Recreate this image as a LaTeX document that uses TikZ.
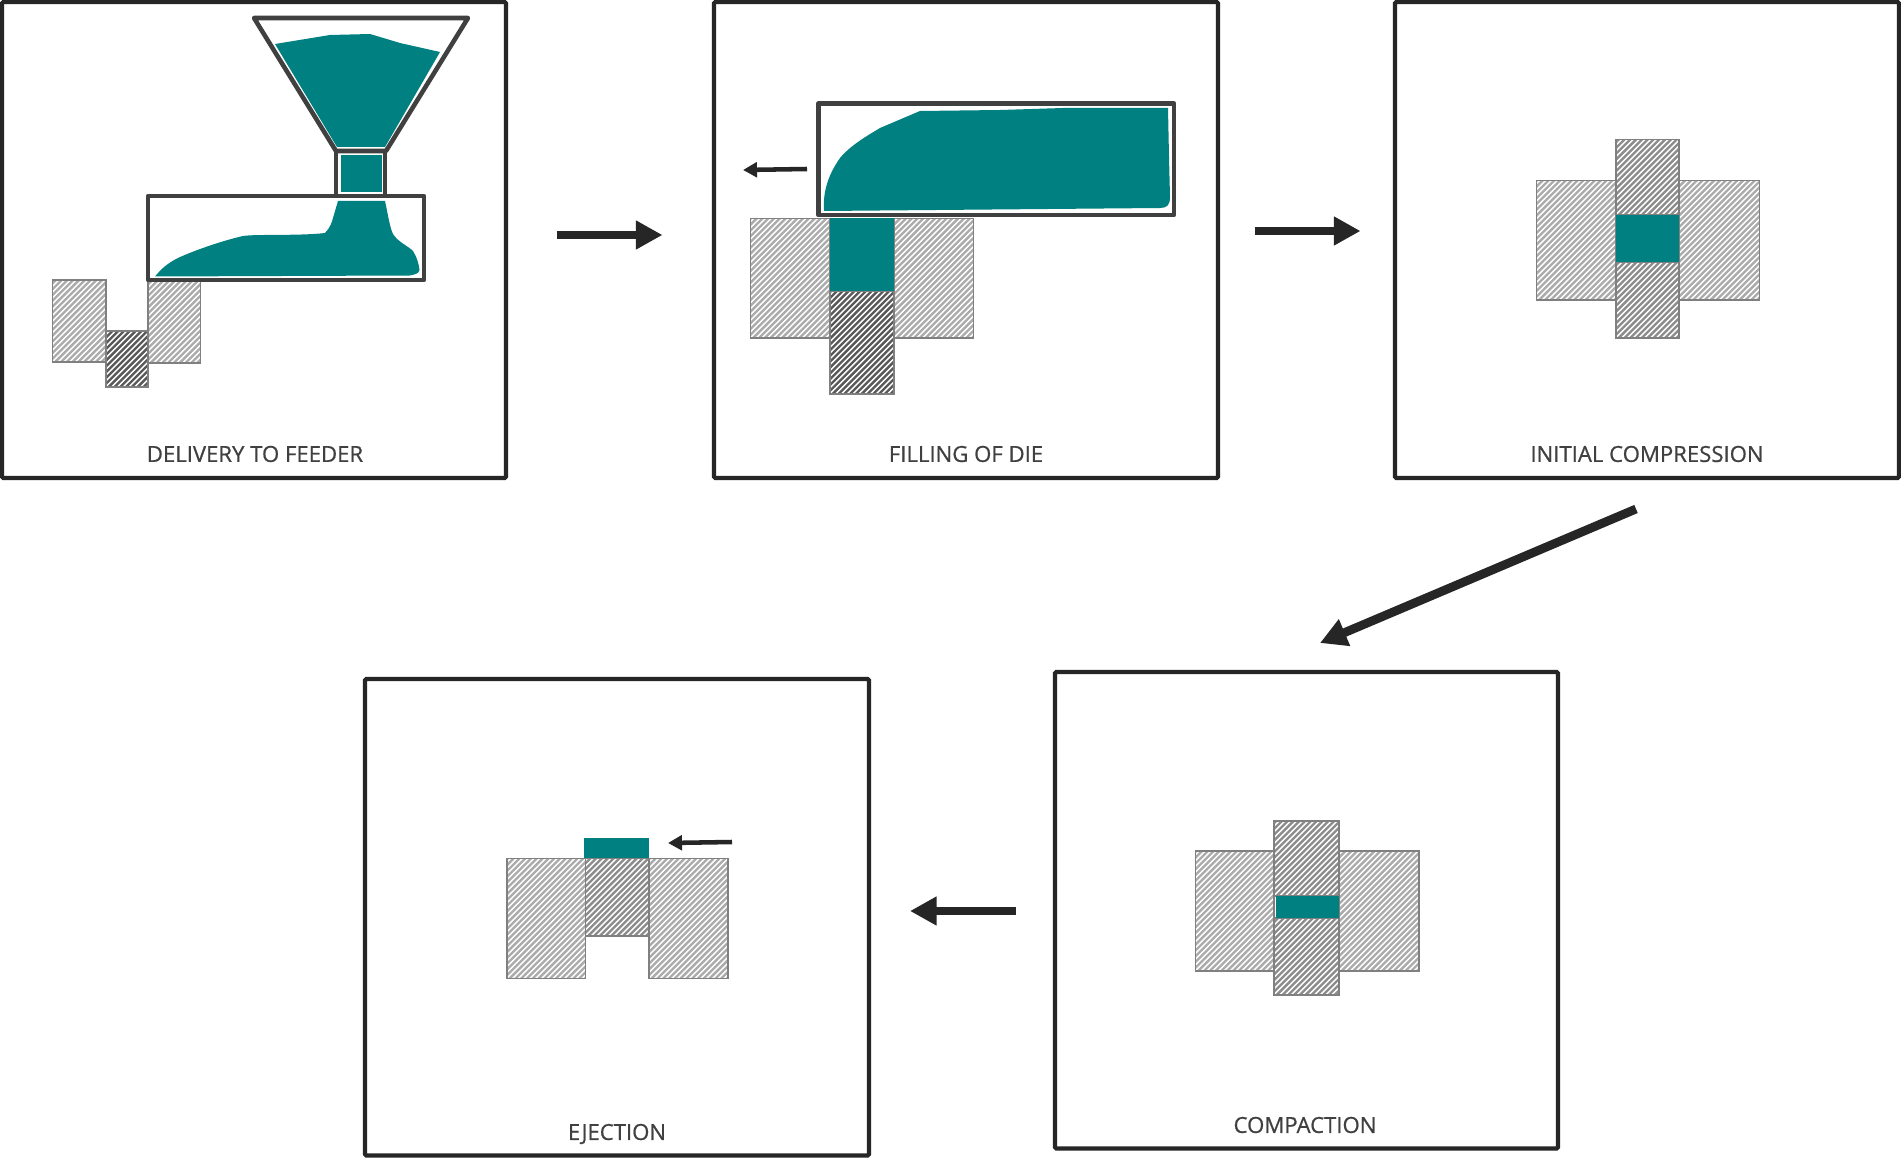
\documentclass[tikz,border=0pt]{standalone}
\usepackage{fontspec}
\setmainfont{Open Sans}
\newfontfamily\capfont[FakeBold=0.7]{Open Sans}
\usetikzlibrary{arrows.meta}
\definecolor{teal1}{HTML}{008080}
\definecolor{frameink}{HTML}{262626}
\definecolor{machineink}{HTML}{404040}
\definecolor{hatchedge}{HTML}{808080}
\definecolor{hatchlight}{HTML}{ABABAB}
\definecolor{hatchmid}{HTML}{8C8C8C}
\definecolor{hatchdark}{HTML}{595959}
\tikzset{
  x=0.75pt, y=-0.75pt,
  panel/.style={draw=frameink, line width=3.2pt, rounded corners=1pt},
  machine/.style={draw=machineink, line width=3.4pt, line join=round},
  powder/.style={fill=teal1, draw=none},
  caption/.style={text=machineink, font=\capfont\fontsize{16.6}{20}\selectfont, anchor=center, inner sep=0pt},
  bigarrow/.style={draw=frameink, line width=6.6pt, -{Triangle[length=20pt,width=20.5pt]}},
  smallarrow/.style={draw=frameink, line width=3.4pt, -{Triangle[length=10.5pt,width=11pt]}},
}
% Hatched block: corners in pixel-like units, stripe colour as last argument
\newcommand{\hatchblock}[5]{%
  \begin{scope}
    \clip (#1,#2) rectangle (#3,#4);
    \foreach \k in {-60,...,60}{
      \draw[#5, line width=1.75pt] ({#1+\k*5.8},{#4+20}) -- ++(140,-140);
    }
  \end{scope}
  \draw[hatchedge, line width=0.9pt] (#1,#2) rectangle (#3,#4);
}
\begin{document}
\begin{tikzpicture}
\useasboundingbox (0,0) rectangle (1901,1162);
\fill[white] (0,0) rectangle (1901,1162);

% Panel frames
\draw[panel] (2,2) rectangle (506,478);
\draw[panel] (714,2) rectangle (1218,478);
\draw[panel] (1395,2) rectangle (1899,478);
\draw[panel] (1055,672) rectangle (1558,1148.5);
\draw[panel] (365,679) rectangle (869,1155.5);

% Delivery to feeder
\hatchblock{52.5}{280}{106}{362}{hatchlight}
\hatchblock{148}{281}{200.5}{363}{hatchlight}
\hatchblock{106}{331}{148}{387}{hatchdark}
\fill[powder] (275,44) -- (330,35) -- (370,34) -- (400,43) -- (440,52) -- (385,147) -- (337,147) -- cycle;
\fill[powder] (341,155) rectangle (382,192);
\fill[powder] (155,276.5) .. controls (162,268) and (168,263) .. (178,258)
  .. controls (195,250) and (225,240) .. (243,236)
  .. controls (255,234) and (300,236) .. (325,233)
  .. controls (330,228) and (332,222) .. (333,218)
  -- (338,201) -- (385,201)
  .. controls (388,215) and (390,228) .. (393,234)
  .. controls (398,242) and (408,246) .. (413,251)
  .. controls (417,257) and (419,265) .. (419.5,270)
  .. controls (419,274) and (414,274.5) .. (410,275.5) -- cycle;
\draw[machine] (254,18) -- (468,18) -- (386,151) -- (336,151) -- cycle;
\draw[machine] (336,151) rectangle (385,196);
\draw[machine] (148,196) rectangle (424,280);

% Filling of die
\hatchblock{750.5}{218.5}{830}{338}{hatchlight}
\hatchblock{894}{218.5}{973.5}{338}{hatchlight}
\hatchblock{830}{291}{894}{394}{hatchdark}
\fill[powder] (830,218) rectangle (893.5,291);
\fill[powder] (824,211) .. controls (823,195) and (826,178) .. (840,158)
  .. controls (850,146) and (865,137) .. (880,128)
  -- (920,111) -- (1000,110) -- (1063,108) -- (1168,108) -- (1169,157) -- (1170,197)
  .. controls (1170,205) and (1167,208) .. (1160,208) -- cycle;
\draw[machine] (818.5,103.5) rectangle (1174,215);

% Initial compression
\hatchblock{1536.5}{180.5}{1616}{300}{hatchlight}
\hatchblock{1679}{180.5}{1759.5}{300}{hatchlight}
\hatchblock{1616}{139.5}{1679}{215}{hatchmid}
\hatchblock{1616}{262}{1679}{338}{hatchmid}
\fill[powder] (1616,215) rectangle (1679,262);

% Compaction
\hatchblock{1195.5}{851}{1274}{971}{hatchlight}
\hatchblock{1339}{851}{1419}{971}{hatchlight}
\hatchblock{1274}{821}{1339}{896}{hatchmid}
\hatchblock{1274}{918}{1339}{995}{hatchmid}
\fill[powder] (1276,896) rectangle (1339,918);

% Ejection
\hatchblock{507}{858.5}{585.5}{978.5}{hatchlight}
\hatchblock{649}{858.5}{728}{978.5}{hatchlight}
\hatchblock{585.5}{858.5}{649}{936}{hatchmid}
\fill[powder] (584,838) rectangle (649,858);

% Stage arrows
\coordinate (a1s) at (556.5,235); \coordinate (a1e) at (662.5,235);
\coordinate (a2s) at (1254.5,231); \coordinate (a2e) at (1360.5,231);
\coordinate (a3s) at (1636,509); \coordinate (a3e) at (1320,643);
\coordinate (a4s) at (1016,911); \coordinate (a4e) at (910,911);
\draw[bigarrow] (a1s) -- (a1e);
\draw[bigarrow] (a2s) -- (a2e);
\draw[bigarrow] (a3s) -- (a3e);
\draw[bigarrow] (a4s) -- (a4e);

% Direction-of-motion arrows
\coordinate (b1s) at (807,169); \coordinate (b1e) at (743,170);
\coordinate (b2s) at (732,842); \coordinate (b2e) at (668,843);
\draw[smallarrow] (b1s) -- (b1e);
\draw[smallarrow] (b2s) -- (b2e);

% Stage captions
\node[caption] (c1) at (255,454) {DELIVERY TO FEEDER};
\node[caption] (c2) at (966,454) {FILLING OF DIE};
\node[caption] (c3) at (1647,454) {INITIAL COMPRESSION};
\node[caption] (c4) at (1305,1125) {COMPACTION};
\node[caption] (c5) at (617,1134) {EJECTION};
\end{tikzpicture}
\end{document}
